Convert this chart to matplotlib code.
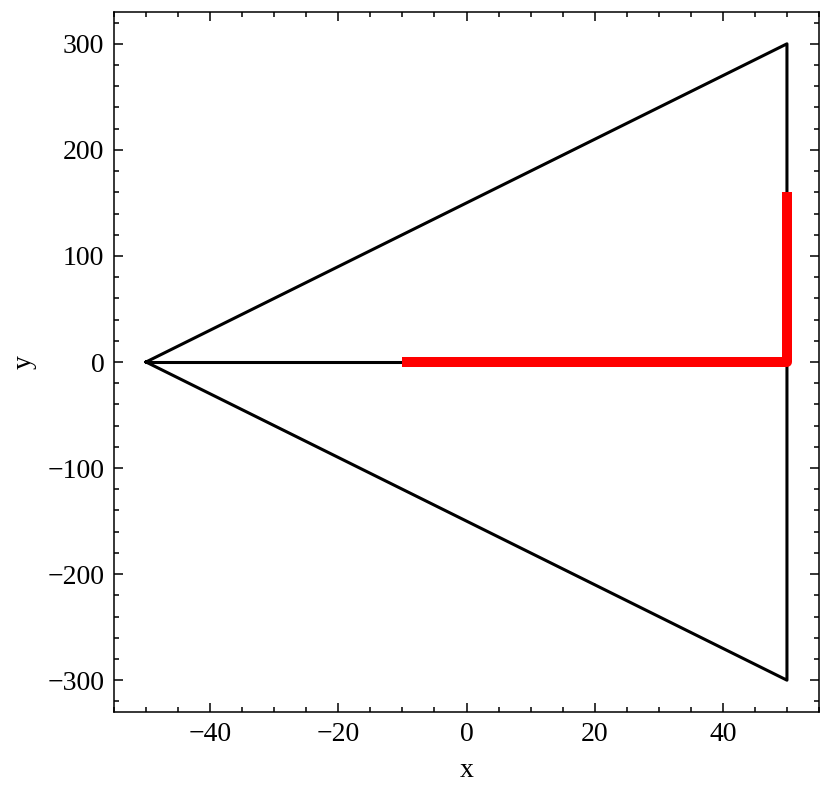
import matplotlib
matplotlib.use("Agg")

import matplotlib.pyplot as plt
from matplotlib.ticker import AutoMinorLocator

# Triangle outline and its centre line
tri_x = [-50, 50, 50, -50]
tri_y = [0, 300, -300, 0]
mid_x = [-50, 50]
mid_y = [0, 0]

# Red path
path_x = [-10, 50, 50]
path_y = [0, 0, 160]

plt.rcParams["font.family"] = "serif"
plt.rcParams["font.serif"] = ["Liberation Serif", "DejaVu Serif"]
plt.rcParams["font.size"] = 10
plt.rcParams["axes.linewidth"] = 0.55
plt.rcParams["xtick.direction"] = "in"
plt.rcParams["ytick.direction"] = "in"
plt.rcParams["xtick.top"] = True
plt.rcParams["ytick.right"] = True
plt.rcParams["xtick.major.size"] = 3.3
plt.rcParams["ytick.major.size"] = 3.3
plt.rcParams["xtick.minor.size"] = 1.7
plt.rcParams["ytick.minor.size"] = 1.7
plt.rcParams["xtick.major.width"] = 0.55
plt.rcParams["ytick.major.width"] = 0.55
plt.rcParams["xtick.minor.width"] = 0.55
plt.rcParams["ytick.minor.width"] = 0.55

fig = plt.figure(figsize=(831 / 200, 792 / 200), dpi=200)
ax = fig.add_axes([114 / 831, 80 / 792, 705 / 831, 700 / 792])

ax.plot(tri_x, tri_y, color="black", lw=1.1)
ax.plot(mid_x, mid_y, color="black", lw=1.1)
ax.plot(path_x, path_y, color="red", lw=3.6, solid_capstyle="butt")

ax.xaxis.set_minor_locator(AutoMinorLocator())
ax.yaxis.set_minor_locator(AutoMinorLocator())
ax.tick_params(which="both", top=True, right=True)

ax.set_xlabel("x")
ax.set_ylabel("y")

fig.savefig("out.png", dpi=200)
